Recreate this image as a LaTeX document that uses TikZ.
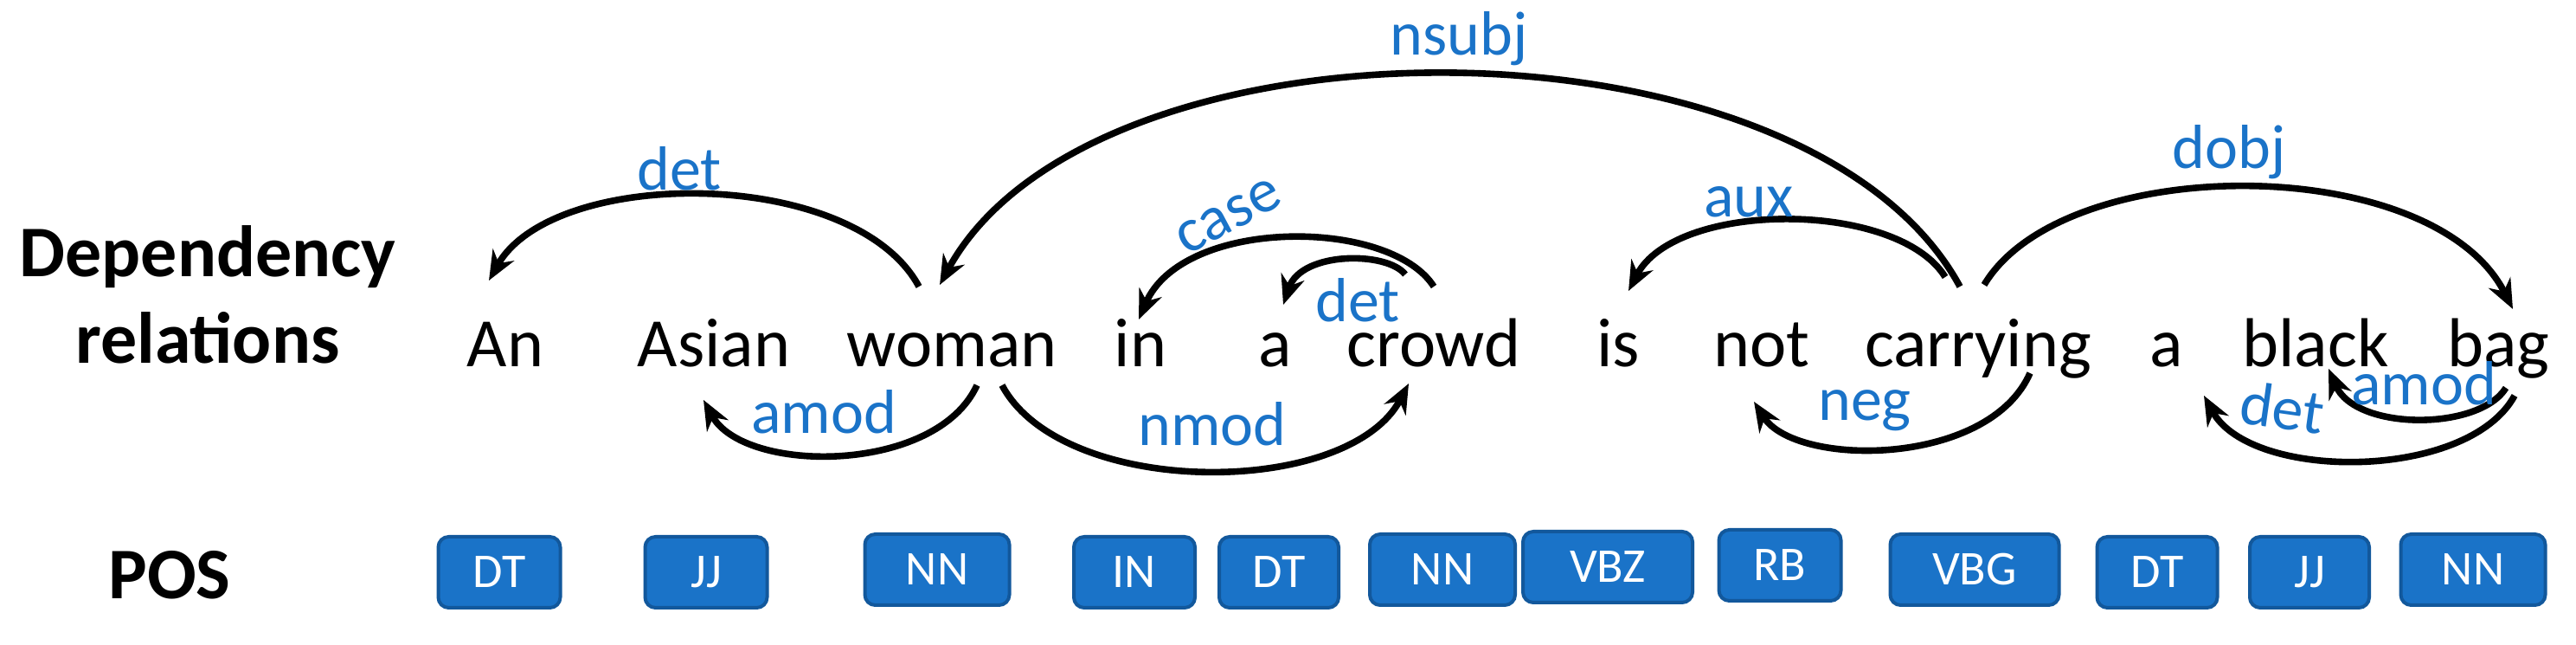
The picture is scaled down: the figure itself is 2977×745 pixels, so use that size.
\documentclass[tikz,border=0pt]{standalone}
\usepackage{fontspec}
\setmainfont{Carlito}
\usetikzlibrary{arrows.meta}
\definecolor{lblue}{RGB}{26,115,200}
\definecolor{bblue}{RGB}{18,88,156}
\tikzset{every picture/.style={line width=0.75pt},
  word/.style={anchor=base,inner sep=0pt,font=\fontsize{20}{24}\selectfont},
  rel/.style={inner sep=0pt,text=lblue,font=\fontsize{18}{21}\selectfont},
  head/.style={inner sep=0pt,align=center,font=\fontsize{21}{25}\selectfont\bfseries},
  dep/.style={line width=1.9pt,-{Stealth[length=8.5pt,width=7pt]}},
  postag/.style={draw=bblue,line width=1pt,fill=lblue,rounded corners=3pt,text=white,
    minimum height=20.5pt,inner sep=0pt,font=\fontsize{14}{16}\selectfont}}

\begin{document}
\begin{tikzpicture}[x=0.25pt,y=0.25pt,yscale=-1,xscale=1]
	\useasboundingbox (0,0) rectangle (2977,745);

	% Headings
	\node[head] (hdep) at (240,340) {Dependency\\relations};
	\node[head] (hpos) at (196,664) {POS};

	% Words
	\node[word] (w1) at (584,424) {An};
	\node[word] (w2) at (825,424) {Asian};
	\node[word] (w3) at (1100,424) {woman};
	\node[word] (w4) at (1318,424) {in};
	\node[word] (w5) at (1474,424) {a};
	\node[word] (w6) at (1657,424) {crowd};
	\node[word] (w7) at (1870,424) {is};
	\node[word] (w8) at (2036,424) {not};
	\node[word] (w9) at (2286,424) {carrying};
	\node[word] (w10) at (2504,424) {a};
	\node[word] (w11) at (2676,424) {black};
	\node[word] (w12) at (2887,424) {bag};

	% POS tags
	\node[postag,minimum width=35.25pt] (p1) at (577,661) {DT};
	\node[postag,minimum width=35.25pt] (p2) at (816,661) {JJ};
	\node[postag,minimum width=41.75pt] (p3) at (1083,658) {NN};
	\node[postag,minimum width=35pt] (p4) at (1311,661) {IN};
	\node[postag,minimum width=34.5pt] (p5) at (1478,661) {DT};
	\node[postag,minimum width=42pt] (p6) at (1667,658) {NN};
	\node[postag,minimum width=49pt] (p7) at (1858,655) {VBZ};
	\node[postag,minimum width=35.25pt] (p8) at (2057,653) {RB};
	\node[postag,minimum width=48.75pt] (p9) at (2282,658) {VBG};
	\node[postag,minimum width=34.75pt] (p10) at (2493,661) {DT};
	\node[postag,minimum width=34.5pt] (p11) at (2669,661) {JJ};
	\node[postag,minimum width=41.75pt] (p12) at (2858,658) {NN};

	% Arc end points
	\coordinate (womanT) at (1062,331);   \coordinate (anT) at (565,324);
	\coordinate (womanB) at (1129,445);   \coordinate (asianB) at (813,462);
	\coordinate (womanB2) at (1158,445);  \coordinate (crowdB) at (1628,443);
	\coordinate (womanT2) at (1086,329);  \coordinate (carryT) at (2265,331);
	\coordinate (crowdT) at (1657,331);   \coordinate (inT) at (1316,369);
	\coordinate (crowdT2) at (1624,317);  \coordinate (aT) at (1483,352);
	\coordinate (carryT2) at (2248,320);  \coordinate (isT) at (1882,336);
	\coordinate (carryT3) at (2293,329);  \coordinate (bagT) at (2904,357);
	\coordinate (carryB) at (2346,431);   \coordinate (notB) at (2027,464);
	\coordinate (bagB) at (2906,457);     \coordinate (a2B) at (2547,457);
	\coordinate (bagB2) at (2896,448);    \coordinate (blackB) at (2691,426);

	% Dependency arcs
	\draw[dep] (womanT) .. controls (987,192) and (640,192) .. (anT);
	\draw[dep] (womanB) .. controls (1082,548) and (860,548) .. (asianB);
	\draw[dep] (carryT) .. controls (2088,5) and (1263,5) .. (womanT2);
	\draw[dep] (crowdT) .. controls (1606,251) and (1367,251) .. (inT);
	\draw[dep] (crowdT2) .. controls (1603,290) and (1504,290) .. (aT);
	\draw[dep] (womanB2) .. controls (1228,576) and (1558,576) .. (crowdB);
	\draw[dep] (carryT2) .. controls (2193,231) and (1937,231) .. (isT);
	\draw[dep] (carryT3) .. controls (2385,175) and (2812,175) .. (bagT);
	\draw[dep] (carryB) .. controls (2298,540) and (2075,540) .. (notB);
	\draw[dep] (bagB) .. controls (2852,556) and (2601,556) .. (a2B);
	\draw[dep] (bagB2) .. controls (2865,498) and (2722,498) .. (blackB);

	% Relation labels
	\node[rel] (l1) at (785,195) {det};
	\node[rel] (l2) at (952,476) {amod};
	\node[rel] (l3) at (1686,45) {nsubj};
	\node[rel,rotate=28] (l4) at (1420,250) {case};
	\node[rel] (l5) at (1569,347) {det};
	\node[rel] (l6) at (1401,490) {nmod};
	\node[rel] (l7) at (2021,233) {aux};
	\node[rel] (l8) at (2576,176) {dobj};
	\node[rel] (l9) at (2155,474) {neg};
	\node[rel,rotate=-8] (l10) at (2638,471) {det};
	\node[rel] (l11) at (2801,443) {amod};
\end{tikzpicture}
\end{document}
